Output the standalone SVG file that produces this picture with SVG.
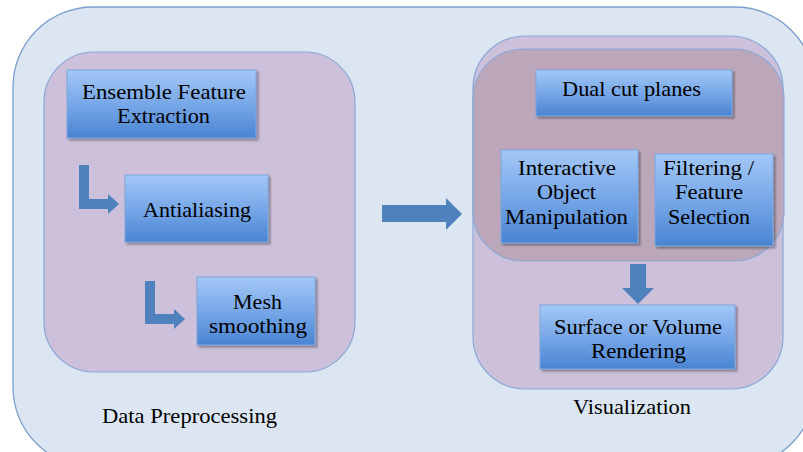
<svg xmlns="http://www.w3.org/2000/svg" width="803" height="452" viewBox="0 0 803 452">
<defs>
<linearGradient id="bg" x1="0" y1="0" x2="0" y2="1">
<stop offset="0" stop-color="#a3c8f7"/>
<stop offset="0.55" stop-color="#73a4e6"/>
<stop offset="1" stop-color="#4a84d2"/>
</linearGradient>
<filter id="sh" x="-10%" y="-10%" width="130%" height="130%">
<feGaussianBlur in="SourceAlpha" stdDeviation="1.2"/>
<feOffset dx="1.5" dy="2" result="o"/>
<feComponentTransfer><feFuncA type="linear" slope="0.35"/></feComponentTransfer>
<feMerge><feMergeNode/><feMergeNode in="SourceGraphic"/></feMerge>
</filter>
</defs>
<style>
.outer{fill:#dce6f2;stroke:#7b9fd0;stroke-width:1.3}
.grp{fill:#ccc0da;stroke:#8aa8d6;stroke-width:1.2}
.inner{fill:#bba7b9;stroke:#8aa8d6;stroke-width:1.2}
.box{fill:url(#bg);stroke:#7ea6dc;stroke-width:1;filter:url(#sh)}
.arr{fill:#4f81bd}
text{font-family:"Liberation Serif","DejaVu Serif",serif;font-size:22px;fill:#000;text-anchor:middle}
</style>
<rect class="outer" x="13" y="7" width="802" height="460" rx="80"/>
<g id="data-preprocessing">
<rect class="grp" x="44" y="52" width="311" height="320" rx="50"/>
<text x="189.5" y="423" textLength="175" lengthAdjust="spacingAndGlyphs">Data Preprocessing</text>
</g>
<g id="visualization">
<rect class="grp" x="473" y="36" width="310" height="353" rx="52"/>
<rect class="inner" x="473" y="49" width="311" height="212" rx="50"/>
<text x="632" y="414" textLength="118" lengthAdjust="spacingAndGlyphs">Visualization</text>
</g>
<g id="ensemble">
<rect class="box" x="67" y="70" width="189" height="68"/>
<text x="164" y="99" textLength="164" lengthAdjust="spacingAndGlyphs">Ensemble Feature</text>
<text x="163.5" y="123" textLength="93" lengthAdjust="spacingAndGlyphs">Extraction</text>
</g>
<g id="antialiasing">
<rect class="box" x="125" y="175" width="143" height="67"/>
<text x="197" y="217" textLength="108" lengthAdjust="spacingAndGlyphs">Antialiasing</text>
</g>
<g id="mesh">
<rect class="box" x="197" y="277" width="118" height="68"/>
<text x="257.5" y="309" textLength="49" lengthAdjust="spacingAndGlyphs">Mesh</text>
<text x="258" y="333" textLength="98" lengthAdjust="spacingAndGlyphs">smoothing</text>
</g>
<g id="dual">
<rect class="box" x="536" y="70" width="196" height="46"/>
<text x="631.5" y="96" textLength="139" lengthAdjust="spacingAndGlyphs">Dual cut planes</text>
</g>
<g id="interactive">
<rect class="box" x="501" y="150" width="137" height="93"/>
<text x="567" y="175" textLength="98" lengthAdjust="spacingAndGlyphs">Interactive</text>
<text x="566.5" y="199" textLength="59" lengthAdjust="spacingAndGlyphs">Object</text>
<text x="566.5" y="224" textLength="123" lengthAdjust="spacingAndGlyphs">Manipulation</text>
</g>
<g id="filtering">
<rect class="box" x="655" y="154" width="118" height="92"/>
<text x="708.5" y="175" textLength="91" lengthAdjust="spacingAndGlyphs">Filtering /</text>
<text x="709" y="199" textLength="68" lengthAdjust="spacingAndGlyphs">Feature</text>
<text x="709" y="224" textLength="82" lengthAdjust="spacingAndGlyphs">Selection</text>
</g>
<g id="surface">
<rect class="box" x="540" y="305" width="195" height="64"/>
<text x="638" y="334" textLength="168" lengthAdjust="spacingAndGlyphs">Surface or Volume</text>
<text x="638.5" y="358" textLength="95" lengthAdjust="spacingAndGlyphs">Rendering</text>
</g>
<g id="connectors">
<path class="arr" d="M79,165 H89 V199 H108 V194 L119,204 L108,214 V209 H79 Z"/>
<path class="arr" d="M145,281 H155 V314 H174 V309 L185,319 L174,329 V324 H145 Z"/>
<path class="arr" d="M382,205 H446 V198 L462,214 L446,230 V222 H382 Z"/>
<path class="arr" d="M630,264 H646 V288 H654 L638,304 L622,288 H630 Z"/>
</g>
</svg>
